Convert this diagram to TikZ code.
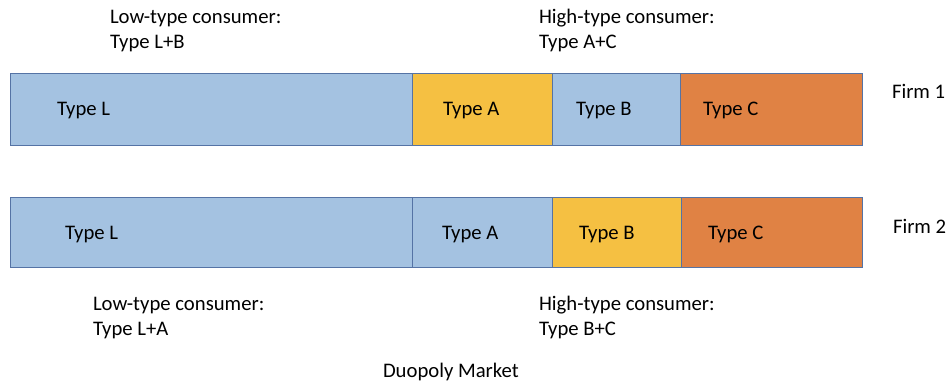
\documentclass[tikz,border=0pt]{standalone}
\usepackage{fontspec}
\setmainfont{Carlito}
\definecolor{segblue}{RGB}{164,194,225}
\definecolor{segyellow}{RGB}{245,192,66}
\definecolor{segorange}{RGB}{224,130,68}
\definecolor{segline}{RGB}{85,115,165}
\begin{document}
\begin{tikzpicture}[x=1pt,y=-1pt,
  seg/.style={draw=segline, line width=1pt, inner sep=0pt, outer sep=0pt, anchor=north west},
  lbl/.style={anchor=base west, inner sep=0pt, outer sep=0pt, font=\fontsize{20.7pt}{25pt}\selectfont}]
\useasboundingbox (0,0) rectangle (949,385);
% Firm 1 row
\node[seg, fill=segblue,   minimum width=402pt, minimum height=71pt] (f1L) at (10,74) {};
\node[seg, fill=segyellow, minimum width=140pt, minimum height=71pt] (f1A) at (412,74) {};
\node[seg, fill=segblue,   minimum width=128pt, minimum height=71pt] (f1B) at (552,74) {};
\node[seg, fill=segorange, minimum width=182pt, minimum height=71pt] (f1C) at (680,74) {};
% Firm 2 row
\node[seg, fill=segblue,   minimum width=402pt, minimum height=70pt] (f2L) at (10,197) {};
\node[seg, fill=segblue,   minimum width=140pt, minimum height=70pt] (f2A) at (412,197) {};
\node[seg, fill=segyellow, minimum width=129pt, minimum height=70pt] (f2B) at (552,197) {};
\node[seg, fill=segorange, minimum width=181pt, minimum height=70pt] (f2C) at (681,197) {};
% segment labels
\node[lbl] (t1L) at (57,116) {Type L};
\node[lbl] (t1A) at (443,115) {Type A};
\node[lbl] (t1B) at (576,115) {Type B};
\node[lbl] (t1C) at (703,115) {Type C};
\node[lbl] (t2L) at (65,239) {Type L};
\node[lbl] (t2A) at (442,239) {Type A};
\node[lbl] (t2B) at (579,239) {Type B};
\node[lbl] (t2C) at (708,239) {Type C};
% firm labels
\node[lbl] (firm1) at (892,99) {Firm 1};
\node[lbl] (firm2) at (893,233) {Firm 2};
% consumer labels
\node[lbl] (low1a) at (110,24) {Low-type consumer:};
\node[lbl] (low1b) at (110,49) {Type L+B};
\node[lbl] (high1a) at (539,24) {High-type consumer:};
\node[lbl] (high1b) at (539,49) {Type A+C};
\node[lbl] (low2a) at (93,310) {Low-type consumer:};
\node[lbl] (low2b) at (93,335) {Type L+A};
\node[lbl] (high2a) at (539,310) {High-type consumer:};
\node[lbl] (high2b) at (539,335) {Type B+C};
\node[lbl] (title) at (383,377) {Duopoly Market};
\end{tikzpicture}
\end{document}
